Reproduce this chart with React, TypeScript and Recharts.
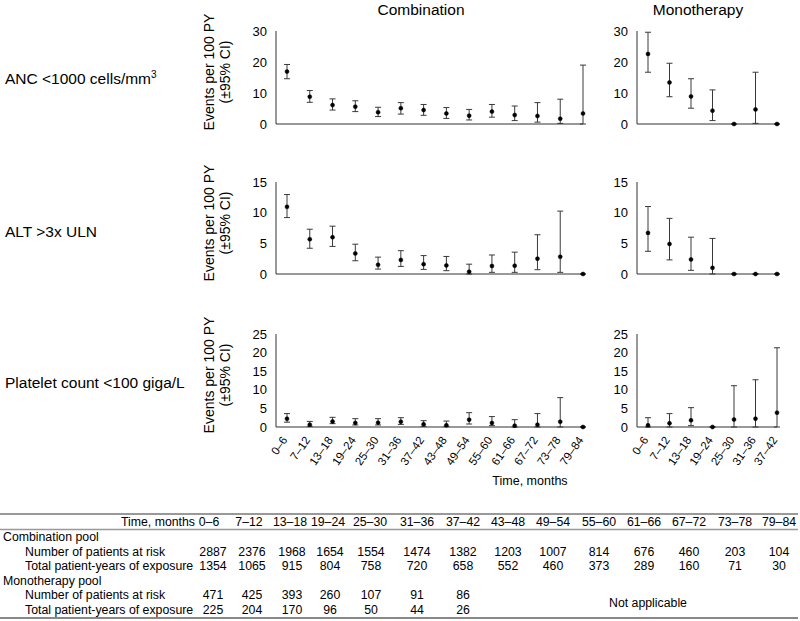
import { LineChart, Line, XAxis, YAxis, ErrorBar } from 'recharts'

const FONT = '"Liberation Sans", Arial, Helvetica, sans-serif'

// categories (months)
const combMonths = ['0–6', '7–12', '13–18', '19–24', '25–30', '31–36', '37–42', '43–48', '49–54', '55–60', '61–66', '67–72', '73–78', '79–84']
const monoMonths = ['0–6', '7–12', '13–18', '19–24', '25–30', '31–36', '37–42']

// ANC <1000 cells/mm3
const combAncRate = [16.9, 8.8, 6.1, 5.6, 3.8, 5.1, 4.5, 3.4, 2.7, 4.0, 2.9, 2.6, 1.7, 3.4]
const combAncLow = [14.6, 7.0, 4.5, 4.0, 2.4, 3.2, 2.8, 1.8, 1.3, 2.2, 1.1, 0.6, 0.2, 0]
const combAncHigh = [19.2, 10.8, 8.1, 7.5, 5.4, 6.9, 6.3, 5.3, 4.7, 6.3, 5.8, 6.9, 8.0, 19.0]
const monoAncRate = [22.6, 13.4, 8.9, 4.3, 0, 4.7, 0]
const monoAncLow = [16.7, 8.8, 5.1, 1.1, 0, 0.2, 0]
const monoAncHigh = [29.6, 19.6, 14.6, 11.0, 0, 16.7, 0]

// ALT >3x ULN
const combAltRate = [10.95, 5.67, 6.0, 3.35, 1.5, 2.3, 1.6, 1.4, 0.38, 1.3, 1.35, 2.5, 2.8, 0]
const combAltLow = [9.2, 4.2, 4.5, 2.16, 0.8, 1.24, 0.75, 0.54, 0, 0.27, 0.27, 0.7, 0.27, 0]
const combAltHigh = [12.95, 7.3, 7.8, 4.86, 2.75, 3.8, 3.0, 2.86, 1.6, 3.1, 3.56, 6.4, 10.25, 0]
const monoAltRate = [6.7, 4.9, 2.37, 1.0, 0, 0, 0]
const monoAltLow = [3.7, 2.3, 0.6, 0, 0, 0, 0]
const monoAltHigh = [11.0, 9.07, 6.0, 5.8, 0, 0, 0]

// Platelet count <100 giga/L
const combPltRate = [2.24, 0.63, 1.5, 1.1, 1.16, 1.43, 0.72, 0.45, 1.97, 1.1, 0.36, 0.63, 1.43, 0]
const combPltLow = [1.3, 0.18, 0.9, 0.54, 0.54, 0.7, 0.18, 0.1, 0.8, 0.36, 0, 0, 0, 0]
const combPltHigh = [3.6, 1.5, 2.6, 2.24, 2.24, 2.5, 1.7, 1.6, 3.85, 2.8, 1.97, 3.6, 7.9, 0]
const monoPltRate = [0.45, 1.0, 1.8, 0, 2.0, 2.24, 3.85]
const monoPltLow = [0, 0, 0.36, 0, 0, 0, 0]
const monoPltHigh = [2.5, 3.6, 5.2, 0, 11.1, 12.7, 21.3]

// table below the charts
const combAtRisk = [2887, 2376, 1968, 1654, 1554, 1474, 1382, 1203, 1007, 814, 676, 460, 203, 104]
const combExposure = [1354, 1065, 915, 804, 758, 720, 658, 552, 460, 373, 289, 160, 71, 30]
const monoAtRisk = [471, 425, 393, 260, 107, 91, 86]
const monoExposure = [225, 204, 170, 96, 50, 44, 26]
const headX = [209, 249, 290, 328, 370, 417, 463, 508, 553, 599, 644, 689, 735, 779]
const numX = [213, 252, 292, 330, 371, 417, 463, 508, 553, 599, 644, 689, 735, 779]

const buildRows = (cats: string[], rate: number[], low: number[], high: number[]) =>
  cats.map((cat, i) => ({ cat, v: rate[i], err: [rate[i] - low[i], high[i] - rate[i]] }))

const RotTick = (props: any) => {
  const { x, y, payload } = props
  const tx = x + 1
  const ty = y + 13
  return (
    <text x={tx} y={ty} transform={`rotate(-55, ${tx}, ${ty})`} textAnchor="end" fontSize={11.5} fontFamily={FONT} fill="#000">
      {payload.value}
    </text>
  )
}

interface PanelProps {
  rows: { cat: string; v: number; err: number[] }[]
  left: number // x of the y axis
  top: number // y of the plot top
  plotW: number
  plotH: number
  max: number
  ticks: number[]
  showTicks?: boolean
}

function Panel({ rows, left, top, plotW, plotH, max, ticks, showTicks }: PanelProps) {
  const xh = showTicks ? 60 : 12
  return (
    <div style={{ position: 'absolute', left: left - 30, top: top - 8 }}>
      <LineChart width={30 + plotW + 6} height={8 + plotH + xh} data={rows} margin={{ top: 8, right: 6, bottom: 0, left: 0 }}>
        <XAxis
          dataKey="cat"
          scale="point"
          padding={{ left: 11, right: 0 }}
          height={xh}
          stroke="#333"
          tickLine={false}
          tickSize={0}
          tickMargin={0}
          interval={0}
          tick={showTicks ? <RotTick /> : false}
        />
        <YAxis
          type="number"
          domain={[0, max]}
          ticks={ticks}
          interval={0}
          width={30}
          stroke="#333"
          tickLine={false}
          tickSize={0}
          tickMargin={9}
          tick={{ fontSize: 13, fill: '#000', fontFamily: FONT }}
        />
        <Line
          dataKey="v"
          stroke="none"
          isAnimationActive={false}
          dot={{ r: 2, fill: '#000', stroke: '#000', strokeWidth: 0.5 }}
          activeDot={false}
        >
          <ErrorBar dataKey="err" direction="y" width={3} stroke="#3a3a3a" strokeWidth={1} />
        </Line>
      </LineChart>
    </div>
  )
}

const COMB_X = 276
const COMB_W = 307
const MONO_X = 637
const MONO_W = 140

function YLabel({ cy }: { cy: number }) {
  return (
    <g fontSize={14} fontFamily={FONT} fill="#000" textAnchor="middle">
      <text transform={`translate(214, ${cy}) rotate(-90)`}>Events per 100 PY</text>
      <text transform={`translate(230, ${cy}) rotate(-90)`}>(±95% CI)</text>
    </g>
  )
}

export default function App() {
  const t = { fontSize: 12.3, fontFamily: FONT, fill: '#000' }
  return (
    <div style={{ position: 'absolute', left: 0, top: 0, width: 800, height: 621, background: '#fff', fontFamily: FONT }}>
      <svg width={800} height={621} style={{ position: 'absolute', left: 0, top: 0 }}>
        <text x={421} y={15} textAnchor="middle" fontSize={15.5} fontFamily={FONT}>Combination</text>
        <text x={698} y={15} textAnchor="middle" fontSize={15.5} fontFamily={FONT}>Monotherapy</text>

        <text x={5} y={84} fontSize={15.5} fontFamily={FONT}>
          ANC &lt;1000 cells/mm<tspan dy={-6} fontSize={10}>3</tspan>
        </text>
        <text x={5} y={237} fontSize={15.5} fontFamily={FONT}>ALT &gt;3x ULN</text>
        <text x={5} y={388} fontSize={15.5} fontFamily={FONT}>Platelet count &lt;100 giga/L</text>

        <YLabel cy={72} />
        <YLabel cy={223} />
        <YLabel cy={375} />

        <text x={530} y={485} textAnchor="middle" fontSize={12.5} fontFamily={FONT}>Time, months</text>

        {/* table */}
        <line x1={0} x2={798} y1={514} y2={514} stroke="#999" strokeWidth={2} />
        <line x1={0} x2={798} y1={529.5} y2={529.5} stroke="#999" strokeWidth={1.5} />
        <line x1={0} x2={798} y1={618} y2={618} stroke="#888" strokeWidth={2} />
        <text x={195} y={526} textAnchor="end" {...t}>Time, months</text>
        {combMonths.map((m, i) => (
          <text key={'h' + i} x={headX[i]} y={526} textAnchor="middle" {...t}>{m}</text>
        ))}
        <text x={3} y={541} {...t}>Combination pool</text>
        <text x={25} y={555.5} {...t}>Number of patients at risk</text>
        <text x={25} y={570} {...t}>Total patient-years of exposure</text>
        <text x={3} y={584.5} {...t}>Monotherapy pool</text>
        <text x={25} y={599} {...t}>Number of patients at risk</text>
        <text x={25} y={613.5} {...t}>Total patient-years of exposure</text>
        {combAtRisk.map((n, i) => (
          <text key={'ca' + i} x={numX[i]} y={555.5} textAnchor="middle" {...t}>{n}</text>
        ))}
        {combExposure.map((n, i) => (
          <text key={'ce' + i} x={numX[i]} y={570} textAnchor="middle" {...t}>{n}</text>
        ))}
        {monoAtRisk.map((n, i) => (
          <text key={'ma' + i} x={numX[i]} y={599} textAnchor="middle" {...t}>{n}</text>
        ))}
        {monoExposure.map((n, i) => (
          <text key={'me' + i} x={numX[i]} y={613.5} textAnchor="middle" {...t}>{n}</text>
        ))}
        <text x={648} y={607} textAnchor="middle" {...t}>Not applicable</text>
      </svg>

      <Panel rows={buildRows(combMonths, combAncRate, combAncLow, combAncHigh)} left={COMB_X} top={31} plotW={COMB_W} plotH={93} max={30} ticks={[0, 10, 20, 30]} />
      <Panel rows={buildRows(monoMonths, monoAncRate, monoAncLow, monoAncHigh)} left={MONO_X} top={31} plotW={MONO_W} plotH={93} max={30} ticks={[0, 10, 20, 30]} />
      <Panel rows={buildRows(combMonths, combAltRate, combAltLow, combAltHigh)} left={COMB_X} top={182} plotW={COMB_W} plotH={92} max={15} ticks={[0, 5, 10, 15]} />
      <Panel rows={buildRows(monoMonths, monoAltRate, monoAltLow, monoAltHigh)} left={MONO_X} top={182} plotW={MONO_W} plotH={92} max={15} ticks={[0, 5, 10, 15]} />
      <Panel rows={buildRows(combMonths, combPltRate, combPltLow, combPltHigh)} left={COMB_X} top={334} plotW={COMB_W} plotH={93} max={25} ticks={[0, 5, 10, 15, 20, 25]} showTicks />
      <Panel rows={buildRows(monoMonths, monoPltRate, monoPltLow, monoPltHigh)} left={MONO_X} top={334} plotW={MONO_W} plotH={93} max={25} ticks={[0, 5, 10, 15, 20, 25]} showTicks />
    </div>
  )
}
